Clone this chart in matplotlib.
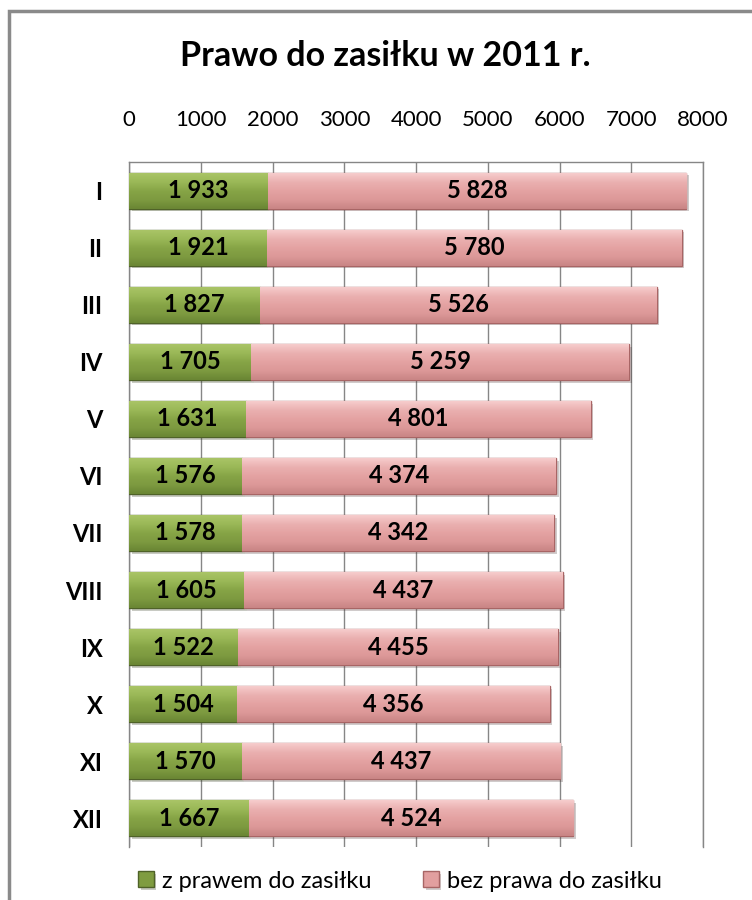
import matplotlib
matplotlib.use("Agg")
import matplotlib.pyplot as plt
import matplotlib.patheffects as pe
from matplotlib.patches import Rectangle
from matplotlib.colors import LinearSegmentedColormap
import numpy as np

# data
months = ["I", "II", "III", "IV", "V", "VI", "VII", "VIII", "IX", "X", "XI", "XII"]
z_prawem = [1933, 1921, 1827, 1705, 1631, 1576, 1578, 1605, 1522, 1504, 1570, 1667]
bez_prawa = [5828, 5780, 5526, 5259, 4801, 4374, 4342, 4437, 4455, 4356, 4437, 4524]
x_ticks = [0, 1000, 2000, 3000, 4000, 5000, 6000, 7000, 8000]

title = "Prawo do zasiłku w 2011 r."
series_names = ["z prawem do zasiłku", "bez prawa do zasiłku"]

plt.rcParams['font.family'] = ['Lato', 'DejaVu Sans']

green_cmap = LinearSegmentedColormap.from_list(
    "g", ["#a9c466", "#9ab857", "#86a446", "#7d9a40", "#6a8634"])
pink_cmap = LinearSegmentedColormap.from_list(
    "p", ["#f6cccc", "#eab0b0", "#e4a2a2", "#dc9898", "#c98585"])


def fmt(v):
    return f"{v:,}".replace(",", " ")


def shade_bars(ax, bars, cmap):
    grad = np.linspace(0, 1, 64).reshape(-1, 1)
    for b in bars:
        x0, y0, w, h = b.get_x(), b.get_y(), b.get_width(), b.get_height()
        im = ax.imshow(grad, cmap=cmap, aspect="auto", origin="lower",
                       extent=(x0, x0 + w, y0, y0 + h), zorder=b.get_zorder() + 0.1,
                       interpolation="bilinear")
        im.set_clip_path(b)


fig = plt.figure(figsize=(7.52, 9.0), dpi=100)
ax = fig.add_axes([0.1715, 0.059, 0.7635, 0.761])

y = np.arange(len(months))
h = 0.63
shadow = [pe.SimplePatchShadow(offset=(2, -2), alpha=0.25), pe.Normal()]
b1 = ax.barh(y, z_prawem, height=h, color="#7f9c40", edgecolor="#4f6228",
             linewidth=1.0, zorder=3, label=series_names[0], path_effects=shadow)
b2 = ax.barh(y, bez_prawa, left=z_prawem, height=h, color="#e29f9f",
             edgecolor="#a86565", linewidth=1.0, zorder=3, label=series_names[1],
             path_effects=shadow)
shade_bars(ax, b1, green_cmap)
shade_bars(ax, b2, pink_cmap)

for i in range(len(months)):
    ax.text(z_prawem[i] / 2, y[i], fmt(z_prawem[i]), ha="center", va="center",
            fontsize=17, fontweight="bold", color="black", zorder=5)
    ax.text(z_prawem[i] + bez_prawa[i] / 2, y[i], fmt(bez_prawa[i]), ha="center",
            va="center", fontsize=17, fontweight="bold", color="black", zorder=5)

ax.set_xlim(0, 8000)
ax.set_ylim(len(months) - 0.5, -0.5)
ax.set_xticks(x_ticks)
ax.set_xticklabels([str(t) for t in x_ticks])
ax.xaxis.tick_top()
ax.tick_params(axis="x", length=0, pad=23, labelsize=16)
ax.set_yticks(y)
ax.set_yticklabels(months, fontweight="bold")
ax.tick_params(axis="y", length=0, pad=19, labelsize=17)
ax.grid(axis="x", color="#868686", linewidth=1.0, zorder=0)
ax.set_axisbelow(True)
for s in ["left", "top", "right"]:
    ax.spines[s].set_color("#868686")
    ax.spines[s].set_linewidth(1.0)
ax.spines["bottom"].set_visible(False)

fig.text(0.512, 0.938, title, ha="center", va="center", fontsize=24.5,
         fontweight="bold")

leg = fig.legend(handles=[b1, b2], labels=series_names, loc="center",
                 bbox_to_anchor=(0.532, 0.021), ncol=2, frameon=False,
                 fontsize=17, handlelength=0.65, handleheight=0.65,
                 handletextpad=0.35, columnspacing=2.2)

fig.add_artist(Rectangle((0.0125, -0.1), 1.2, 1.1 - 0.0125, transform=fig.transFigure,
                         fill=False, edgecolor="#8a8a8a", linewidth=2.5))

fig.savefig("out.png", dpi=100, facecolor="white")
